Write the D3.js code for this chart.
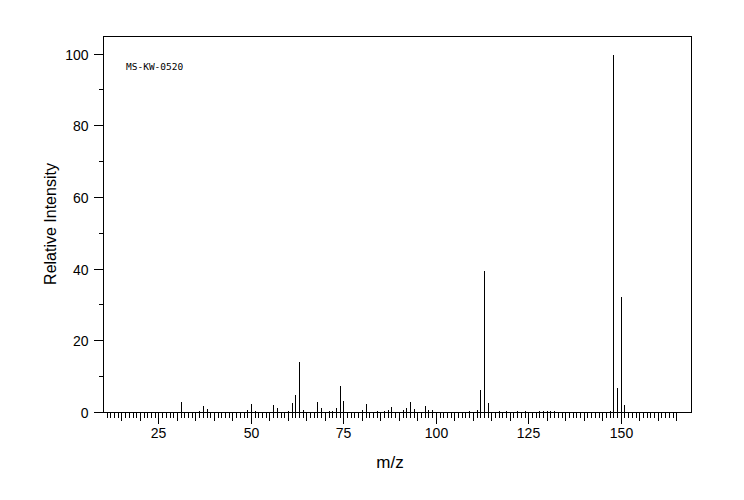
<!DOCTYPE html>
<html>
<head>
<meta charset="utf-8">
<script src="https://cdn.jsdelivr.net/npm/d3@7"></script>
<style>
  html, body { margin: 0; padding: 0; background: #fff; }
  svg { display: block; }
</style>
</head>
<body>
<div id="chart"></div>
<script>
// ---- data ----
const mzValues = [26, 31, 35, 36, 37, 38, 39, 44, 45, 47, 48, 49, 50, 51, 55, 56, 57, 60, 61, 62, 63, 64, 65, 67, 68, 69, 70, 71, 72, 73, 74, 75, 76, 79, 80, 81, 82, 84, 85, 86, 87, 88, 90, 91, 92, 93, 94, 95, 96, 97, 98, 99, 102, 103, 104, 106, 109, 110, 111, 112, 113, 114, 115, 117, 119, 122, 124, 128, 129, 130, 131, 132, 147, 148, 149, 150, 151, 164];
const intensities = [0.4, 3.2, 0.3, 0.65, 2.0, 1.1, 0.3, 0.35, 0.35, 0.35, 0.4, 0.9, 2.6, 0.65, 0.3, 2.2, 1.3, 0.55, 2.8, 5.0, 14.2, 0.85, 0.3, 0.3, 3.1, 1.4, 0.3, 0.45, 0.55, 1.4, 7.5, 3.4, 0.3, 0.3, 0.8, 2.5, 0.3, 0.45, 0.3, 0.55, 0.85, 1.7, 0.3, 0.85, 1.4, 3.1, 1.2, 0.35, 0.35, 2.0, 0.85, 0.85, 0.35, 0.35, 0.35, 0.35, 0.6, 0.35, 0.8, 6.4, 39.5, 2.8, 0.35, 0.6, 0.5, 0.6, 0.5, 0.5, 0.6, 0.6, 0.45, 0.45, 0.6, 100, 7.0, 32.3, 2.1, 0.4];
const xTickLabels = [25, 50, 75, 100, 125, 150];
const yTickLabels = [0, 20, 40, 60, 80, 100];
const xMinorTicks = d3.range(11, 166);
const yMinorTicks = d3.range(0, 101, 10);
const sampleId = "MS-KW-0520";
const xTitle = "m/z";
const yTitle = "Relative Intensity";

// ---- layout ----
const W = 744, H = 500;
const mLeft = 103, mRight = 691, mTop = 36, mBottom = 412;

const svg = d3.select("#chart").append("svg")
  .attr("width", W).attr("height", H)
  .style("font-family", "'Liberation Sans', Arial, sans-serif");

const x = d3.scaleLinear().domain([10, 169]).range([mLeft, mRight]);
const y = d3.scaleLinear().domain([0, 104.9]).range([mBottom, mTop]);

const px = v => Math.round(v) + 0.5;

// frame
svg.append("rect")
  .attr("x", mLeft + 0.5).attr("y", mTop + 0.5)
  .attr("width", mRight - mLeft).attr("height", mBottom - mTop)
  .attr("fill", "none").attr("stroke", "#000").attr("stroke-width", 1)
  .attr("shape-rendering", "crispEdges");

// x axis
const xAxis = d3.axisBottom(x)
  .tickValues(xMinorTicks)
  .tickSize(5)
  .tickFormat(d => xTickLabels.includes(d) ? d : "");
const gx = svg.append("g")
  .attr("transform", `translate(0.5,${mBottom + 0.5})`)
  .call(xAxis);
gx.select(".domain").remove();
gx.selectAll(".tick line")
  .attr("stroke", "#000")
  .attr("shape-rendering", "crispEdges")
  .attr("y2", d => d % 25 === 0 ? 11 : (d % 5 === 0 ? 8 : 5));
gx.selectAll(".tick").attr("transform", d => `translate(${Math.round(x(d))},0)`);
gx.selectAll(".tick text")
  .attr("y", 16).attr("dy", "0.71em")
  .attr("font-size", 14).attr("fill", "#000")
  .style("font-family", "'Liberation Sans', Arial, sans-serif");

// y axis
const yAxis = d3.axisLeft(y)
  .tickValues(yMinorTicks)
  .tickSize(10)
  .tickFormat(d => yTickLabels.includes(d) ? d : "");
const gy = svg.append("g")
  .attr("transform", `translate(${mLeft + 0.5},0.5)`)
  .call(yAxis);
gy.select(".domain").remove();
gy.selectAll(".tick").attr("transform", d => `translate(0,${Math.round(y(d))})`);
gy.selectAll(".tick line")
  .attr("stroke", "#000")
  .attr("shape-rendering", "crispEdges")
  .attr("x2", d => d % 20 === 0 ? -10 : -5);
gy.selectAll(".tick text")
  .attr("x", -15).attr("dy", "0.36em")
  .attr("font-size", 14).attr("fill", "#000")
  .style("font-family", "'Liberation Sans', Arial, sans-serif");

// bars (peaks)
const peaks = mzValues.map((m, i) => ({ m, v: intensities[i] }));
svg.append("g").selectAll("line")
  .data(peaks)
  .join("line")
  .attr("x1", d => px(x(d.m)))
  .attr("x2", d => px(x(d.m)))
  .attr("y1", y(0) + 0.5)
  .attr("y2", d => Math.round(y(d.v)) + 0.5)
  .attr("stroke", "#000")
  .attr("stroke-width", 1)
  .attr("shape-rendering", "crispEdges");

// labels
svg.append("text")
  .attr("x", 126).attr("y", 70)
  .attr("font-family", "'DejaVu Sans Mono', monospace")
  .attr("font-size", 9.5)
  .attr("fill", "#000")
  .text(sampleId);

svg.append("text")
  .attr("x", 390).attr("y", 468)
  .attr("text-anchor", "middle")
  .attr("font-size", 17)
  .attr("fill", "#000")
  .text(xTitle);

svg.append("text")
  .attr("transform", `translate(56,224) rotate(-90)`)
  .attr("text-anchor", "middle")
  .attr("font-size", 16)
  .attr("fill", "#000")
  .text(yTitle);
</script>
</body>
</html>
